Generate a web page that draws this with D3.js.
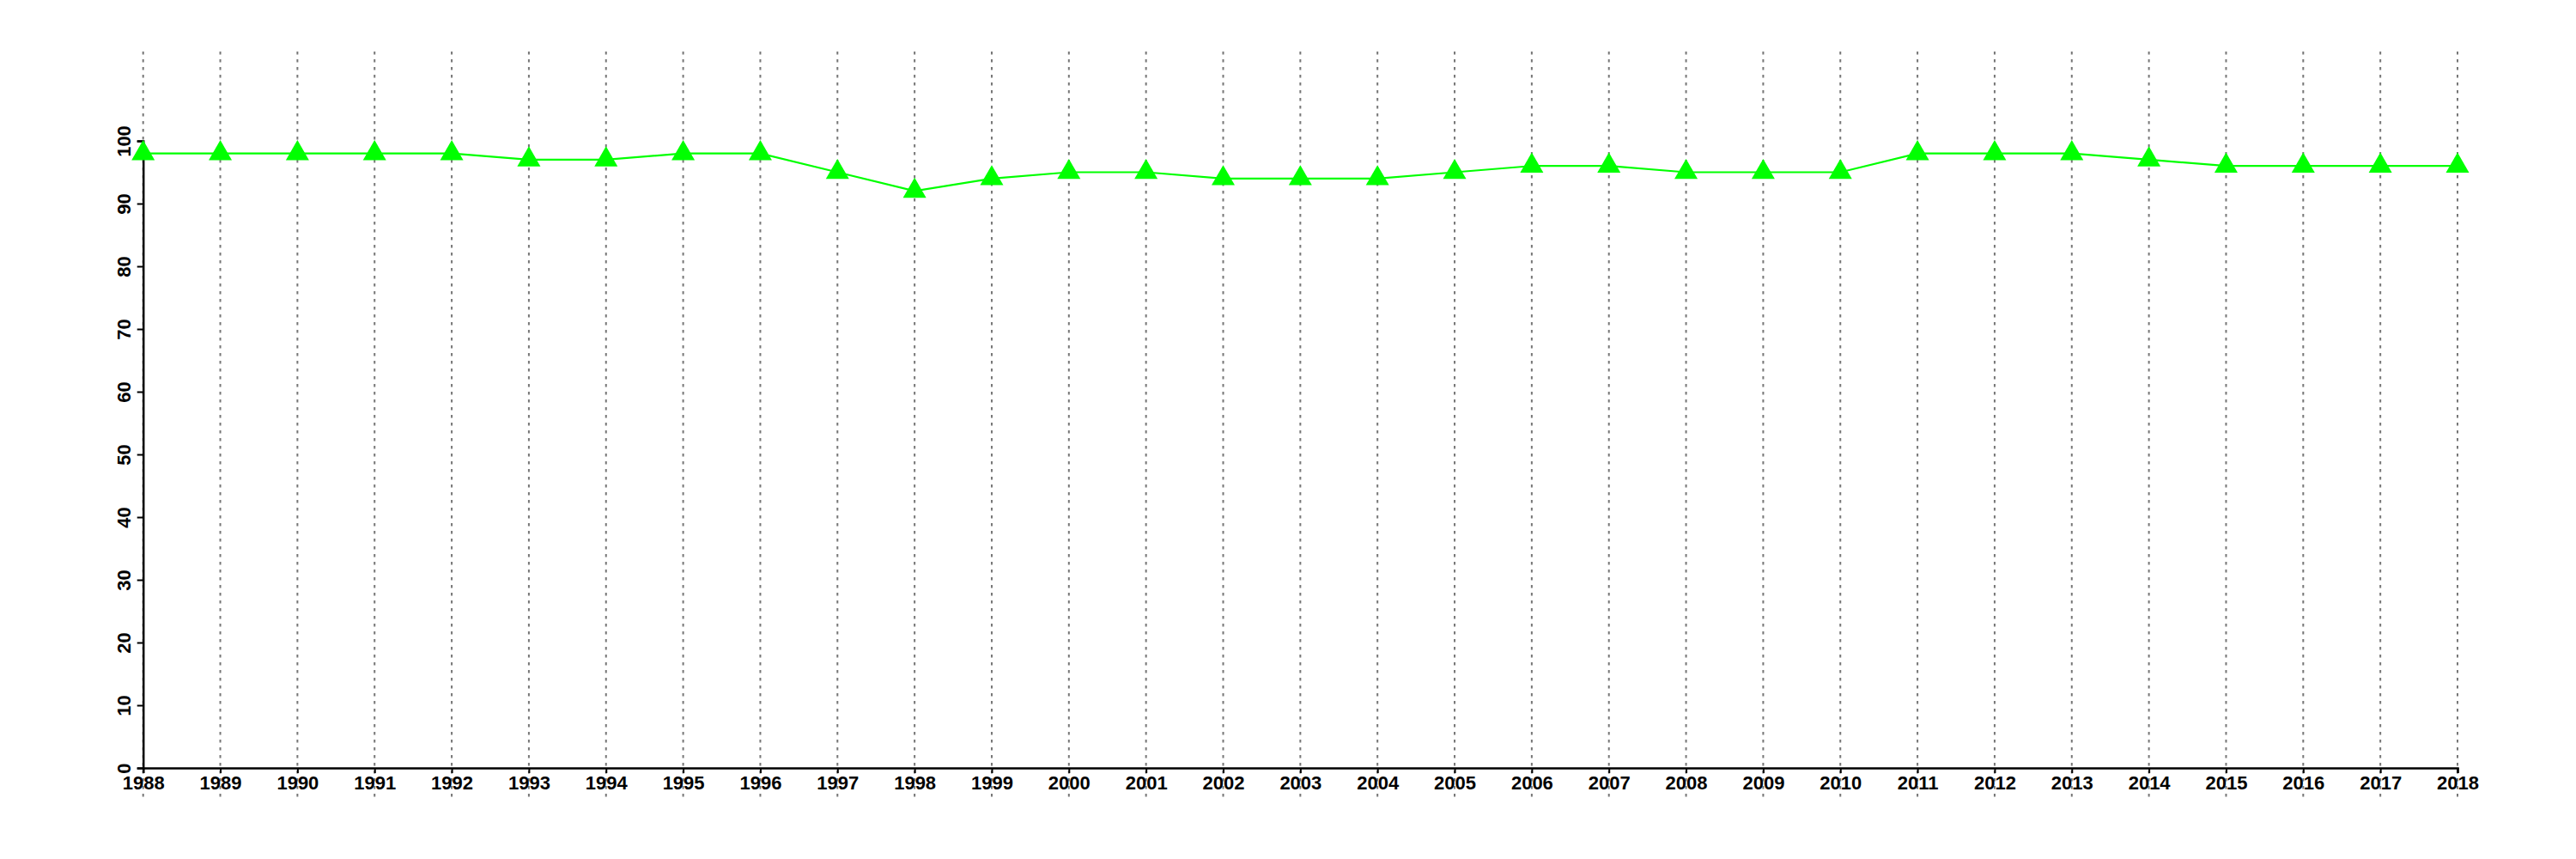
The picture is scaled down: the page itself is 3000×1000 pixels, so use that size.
<!DOCTYPE html>
<html><head><meta charset="utf-8">
<script src="https://cdn.jsdelivr.net/npm/d3@7"></script>
<style>body{margin:0;background:#fff}svg{display:block}</style>
</head><body>
<script>
const years = [1988,1989,1990,1991,1992,1993,1994,1995,1996,1997,1998,1999,2000,2001,2002,2003,2004,2005,2006,2007,2008,2009,2010,2011,2012,2013,2014,2015,2016,2017,2018];
const values = [98,98,98,98,98,97,97,98,98,95,92,94,95,95,94,94,94,95,96,96,95,95,95,98,98,98,97,96,96,96,96];
const yTicks = [0,10,20,30,40,50,60,70,80,90,100];

const W = 3000, H = 1000;
const svg = d3.select("body").append("svg").attr("width", W).attr("height", H);
const x = d3.scaleLinear().domain([1988, 2018]).range([166.7, 2862]);
const y = d3.scaleLinear().domain([0, 100]).range([894, 164]);
const font = "'Liberation Sans', Arial, sans-serif";

// vertical dotted grid lines
svg.append("g").selectAll("line").data(years).join("line")
  .attr("x1", d => x(d)).attr("x2", d => x(d))
  .attr("y1", 60).attr("y2", 928)
  .attr("stroke", "#777").attr("stroke-width", 2)
  .attr("stroke-dasharray", "3.5,5.5");

// x axis
const xAxis = svg.append("g").attr("transform", `translate(0,${y(0)})`)
  .call(d3.axisBottom(x).tickValues(years).tickFormat(d3.format("d")).tickSize(6).tickPadding(4));
xAxis.select(".domain").attr("stroke", "#000").attr("stroke-width", 2.5);
xAxis.selectAll(".tick line").attr("stroke", "#000").attr("stroke-width", 2);
xAxis.selectAll(".tick text").attr("font-family", font).attr("font-size", 22)
  .attr("font-weight", "bold").attr("fill", "#000").attr("dy", null).attr("y", 25);

// y axis
const yAxis = svg.append("g").attr("transform", `translate(${x(1988)},0)`)
  .call(d3.axisLeft(y).tickValues(yTicks).tickSize(7).tickPadding(0));
yAxis.select(".domain").attr("stroke", "#000").attr("stroke-width", 2.5);
yAxis.selectAll(".tick line").attr("stroke", "#000").attr("stroke-width", 2);
yAxis.selectAll(".tick text")
  .attr("font-family", font).attr("font-size", 22).attr("font-weight", "bold").attr("fill", "#000")
  .attr("x", null).attr("dy", null).attr("text-anchor", "middle")
  .attr("transform", "translate(-15,0) rotate(-90)");

// line
const pts = years.map((yr, i) => [yr, values[i]]);
svg.append("path").datum(pts)
  .attr("fill", "none").attr("stroke", "#00ff00").attr("stroke-width", 2.2)
  .attr("d", d3.line().x(d => x(d[0])).y(d => y(d[1])));

// triangles
const tri = d3.symbol().type(d3.symbolTriangle).size(316);
svg.append("g").selectAll("path").data(pts).join("path")
  .attr("transform", d => `translate(${x(d[0])},${y(d[1])})`)
  .attr("d", tri).attr("fill", "#00ff00");
</script>
</body></html>
